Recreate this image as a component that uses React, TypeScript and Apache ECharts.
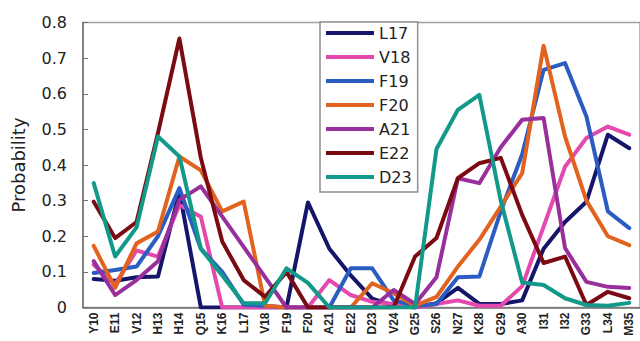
import React, { useEffect, useRef } from "react";
import * as echarts from "echarts";

const categories = ["Y10","E11","V12","H13","H14","Q15","K16","L17","V18","F19","F20","A21","E22","D23","V24","G25","S26","N27","K28","G29","A30","I31","I32","G33","L34","M35"];

const seriesNames = ["L17","V18","F19","F20","A21","E22","D23"];
const seriesColors = ["#15166a","#e449ae","#2a5cc2","#e2621f","#982f9c","#7a0b12","#12998a"];

const L17 = [0.08,0.075,0.085,0.087,0.325,0,0,0,0,0,0.295,0.165,0.09,0.025,0.005,0,0.012,0.055,0.01,0.01,0.02,0.165,0.24,0.297,0.485,0.447];
const V18 = [0.12,0.065,0.16,0.143,0.288,0.255,0,0,0,0,0,0.077,0.035,0.016,0.01,0,0.01,0.02,0.005,0.005,0.06,0.227,0.395,0.476,0.508,0.485];
const F19 = [0.097,0.105,0.115,0.2,0.335,0.165,0.1,0.008,0.005,0,0,0,0.11,0.11,0.02,0.005,0.01,0.085,0.087,0.27,0.43,0.667,0.686,0.536,0.27,0.223];
const F20 = [0.173,0.055,0.18,0.213,0.424,0.385,0.27,0.297,0.005,0,0,0,0,0.068,0.04,0.005,0.03,0.115,0.19,0.283,0.377,0.735,0.48,0.3,0.2,0.175];
const A21 = [0.13,0.035,0.077,0.13,0.302,0.34,0.255,0.17,0.085,0,0,0,0,0,0.049,0.01,0.085,0.363,0.349,0.45,0.527,0.532,0.167,0.072,0.058,0.055];
const E22 = [0.297,0.195,0.24,0.49,0.755,0.42,0.185,0.077,0.03,0.1,0,0,0,0,0,0.143,0.195,0.363,0.405,0.42,0.26,0.125,0.143,0.007,0.044,0.026];
const D23 = [0.349,0.143,0.225,0.48,0.424,0.165,0.09,0.012,0.012,0.11,0.069,0,0,0,0,0,0.445,0.555,0.597,0.3,0.07,0.063,0.026,0.007,0.005,0.013];

const seriesData = [L17, V18, F19, F20, A21, E22, D23];

export default function App() {
  const ref = useRef<HTMLDivElement>(null);
  useEffect(() => {
    if (!ref.current) return;
    const chart = echarts.init(ref.current, undefined, { renderer: "svg" });
    chart.setOption({
      animation: false,
      backgroundColor: "#ffffff",
      textStyle: { fontFamily: "DejaVu Sans" },
      grid: {
        left: 83,
        top: 22.5,
        width: 559,
        height: 285,
        containLabel: false,
        show: true,
        borderColor: "#a0a0a0",
        borderWidth: 1.5,
      },
      legend: {
        orient: "vertical",
        left: 320,
        top: 22,
        data: seriesNames,
        icon: "rect",
        itemWidth: 48,
        itemHeight: 4,
        itemGap: 4,
        padding: [1, 6, 5, 6],
        borderColor: "#909090",
        borderWidth: 1.5,
        backgroundColor: "#ffffff",
        textStyle: { fontSize: 16, color: "#222", lineHeight: 20, fontFamily: "DejaVu Sans" },
      },
      xAxis: {
        type: "category",
        data: categories,
        boundaryGap: true,
        axisLine: { lineStyle: { color: "#707070", width: 1.5 } },
        axisTick: { inside: true, length: 5, alignWithLabel: false, lineStyle: { color: "#707070" } },
        axisLabel: {
          interval: 0,
          rotate: 90,
          margin: 5,
          fontSize: 12,
          fontWeight: "bold",
          color: "#222",
          fontFamily: "Liberation Sans",
        },
        splitLine: { show: false },
      },
      yAxis: {
        type: "value",
        min: 0,
        max: 0.8,
        interval: 0.1,
        name: "Probability",
        nameLocation: "middle",
        nameRotate: 90,
        nameGap: 56,
        nameTextStyle: { fontSize: 18, color: "#222", fontFamily: "DejaVu Sans" },
        axisLine: { show: true, lineStyle: { color: "#707070", width: 1.5 } },
        axisTick: { show: true, inside: true, length: 5, lineStyle: { color: "#707070" } },
        axisLabel: {
          fontSize: 16,
          color: "#222",
          margin: 16,
          formatter: (v: number) => (v === 0 ? "0" : v.toFixed(1)),
        },
        splitLine: { show: false },
      },
      series: seriesNames.map((name, i) => ({
        name,
        type: "line",
        data: seriesData[i],
        symbol: "none",
        showSymbol: false,
        color: seriesColors[i],
        lineStyle: { color: seriesColors[i], width: 4, join: "round", cap: "round" },
        itemStyle: { color: seriesColors[i] },
      })),
    });
    return () => chart.dispose();
  }, []);
  return (
    <div
      ref={ref}
      style={{ position: "absolute", left: 0, top: 0, width: 640, height: 341 }}
    />
  );
}
